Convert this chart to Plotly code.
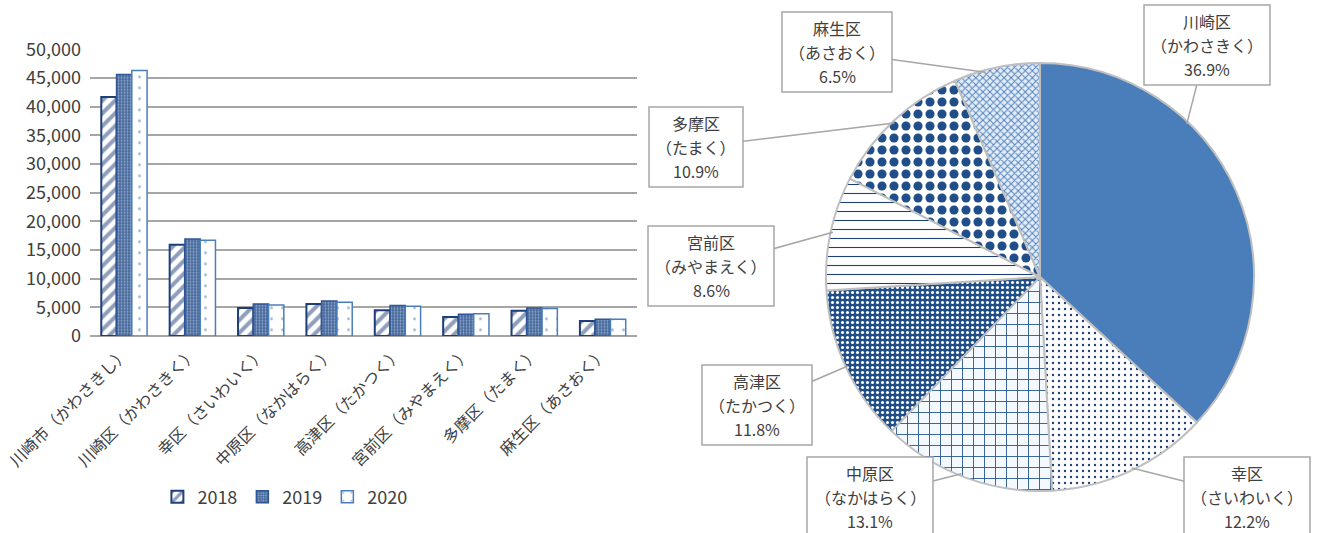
import math
import plotly.graph_objects as go

W, H = 1319, 533
FONT = "Noto Sans CJK JP"

# ---------------- data ----------------
bar_names = ["川崎市", "川崎区", "幸区", "中原区", "高津区", "宮前区", "多摩区", "麻生区"]
bar_readings = ["かわさきし", "かわさきく", "さいわいく", "なかはらく", "たかつく", "みやまえく", "たまく", "あさおく"]
years = ["2018", "2019", "2020"]
v2018 = [41700, 15900, 4900, 5600, 4500, 3300, 4400, 2600]
v2019 = [45600, 16900, 5600, 6100, 5300, 3800, 4900, 2900]
v2020 = [46300, 16700, 5400, 5900, 5200, 3900, 4800, 2900]

pie_names = ["川崎区", "幸区", "中原区", "高津区", "宮前区", "多摩区", "麻生区"]
pie_readings = ["かわさきく", "さいわいく", "なかはらく", "たかつく", "みやまえく", "たまく", "あさおく"]
pie_pct = [36.9, 12.2, 13.1, 11.8, 8.6, 10.9, 6.5]

y_ticks = list(range(0, 50001, 5000))

categories = [f"{n}（{r}）" for n, r in zip(bar_names, bar_readings)]

# ---------------- styles ----------------
NAVY = "#1f3f78"
BLUE = "#2f5597"
STEEL = "#4a7ebb"
GREY = "#a6a6a6"
TXT = "#404040"

bar_styles = [
    dict(color="white", line=dict(color=NAVY, width=2),
         pattern=dict(shape="/", fgcolor=NAVY, bgcolor="white", size=9, solidity=0.45)),
    dict(color=BLUE, line=dict(color=BLUE, width=1.5),
         pattern=dict(shape=".", fgcolor="#e6eef8", bgcolor="#46699c", size=3, solidity=0.3)),
    dict(color="white", line=dict(color=STEEL, width=1.5),
         pattern=dict(shape=".", fgcolor=STEEL, bgcolor="white", size=11, solidity=0.06)),
]

pie_colors = [STEEL, "white", "white", "#1f4e89", "white", "white", "#dbe6f3"]
pie_shapes = ["", ".", "+", ".", "-", ".", "x"]
pie_fg = [STEEL, "#1f3f78", "#1f4e89", "white", "#1f3f78", "#1f4e89", "#4f81bd"]
pie_bg = [STEEL, "white", "#f4f9ff", "#1f4e89", "white", "white", "#e3ecf7"]
pie_size = [8, 6, 11, 5, 9, 12, 5]
pie_sol = [0.3, 0.12, 0.15, 0.3, 0.12, 0.45, 0.35]

fig = go.Figure()

for yr, vals, st in zip(years, [v2018, v2019, v2020], bar_styles):
    fig.add_trace(go.Bar(
        x=categories, y=vals, name=yr,
        marker=dict(color=st["color"], line=st["line"], pattern=st["pattern"]),
        xaxis="x", yaxis="y",
    ))

# pie geometry (layout)
pie_cx, pie_cy, pie_r = 1040, 277, 214
pdx = [(pie_cx - pie_r) / W, (pie_cx + pie_r) / W]
pdy = [1 - (pie_cy + pie_r) / H, 1 - (pie_cy - pie_r) / H]

fig.add_trace(go.Pie(
    labels=pie_names, values=pie_pct, sort=False, direction="clockwise", rotation=0,
    textinfo="none", showlegend=False, hoverinfo="label+percent", automargin=False,
    domain=dict(x=pdx, y=pdy),
    marker=dict(colors=pie_colors, line=dict(color="#bfbfbf", width=2),
                pattern=dict(shape=pie_shapes, fgcolor=pie_fg, bgcolor=pie_bg,
                             size=pie_size, solidity=pie_sol)),
))

# callout boxes (layout positions, pixels) and where along each slice the leader lands
box_centers = [(1207, 45), (1247, 497), (870, 497), (757, 405), (711, 266), (696, 147), (837, 52)]
leader_frac = [0.33, 0.49, 0.53, 0.5, 0.51, 0.49, 0.36]
BOX_FS = 16
LINE_GAP = 24
BOX_H = 80

def px(x):
    return x / W

def py(y):
    return 1 - y / H

shapes = []
annotations = []
total = sum(pie_pct)
cum = 0.0
for name, rd, pct, (bx, by), f in zip(pie_names, pie_readings, pie_pct, box_centers, leader_frac):
    theta = 2 * math.pi * (cum + f * pct) / total
    cum += pct
    tx = pie_cx + pie_r * 0.99 * math.sin(theta)
    ty = pie_cy - pie_r * 0.99 * math.cos(theta)
    lines = [name, f"（{rd}）", f"{pct:.1f}%"]
    bw = max(len(lines[0]), len(lines[1])) * BOX_FS + 14
    # leader line (drawn first, then box on top of it)
    shapes.append(dict(type="line", xref="paper", yref="paper",
                       x0=px(tx), y0=py(ty), x1=px(bx), y1=py(by),
                       line=dict(color=GREY, width=1.5), layer="above"))
    shapes.append(dict(type="rect", xref="paper", yref="paper",
                       x0=px(bx - bw / 2), x1=px(bx + bw / 2),
                       y0=py(by + BOX_H / 2), y1=py(by - BOX_H / 2),
                       line=dict(color=GREY, width=1.5), fillcolor="white", layer="above"))
    for i, t in enumerate(lines):
        annotations.append(dict(
            x=px(bx), y=py(by + (i - 1) * LINE_GAP), xref="paper", yref="paper",
            xanchor="center", yanchor="middle", showarrow=False, text=t,
            font=dict(family=FONT, size=BOX_FS, color=TXT),
        ))

fig.update_layout(
    width=W, height=H,
    margin=dict(l=0, r=0, t=0, b=0, autoexpand=False),
    paper_bgcolor="white", plot_bgcolor="white",
    font=dict(family=FONT, color=TXT),
    barmode="group", bargap=0.33, bargroupgap=0.0,
    xaxis=dict(domain=[90 / W, 637 / W], tickangle=-45, showgrid=False, automargin=False,
               showline=False, ticks="", tickfont=dict(size=16, color=TXT),
               ticklabelstandoff=4, anchor="y"),
    yaxis=dict(domain=[1 - 336 / H, 1 - 49.3 / H], range=[0, 50000], automargin=False,
               tickvals=y_ticks, tickformat=",", showgrid=True, gridcolor=GREY,
               gridwidth=1.5, zeroline=True, zerolinecolor=GREY, zerolinewidth=1.5,
               showline=False, ticks="", ticklabelstandoff=8,
               tickfont=dict(size=18, color=TXT), anchor="x"),
    legend=dict(orientation="h", x=0.216, y=1 - 497 / H, xanchor="center", yanchor="middle",
                font=dict(size=18, color=TXT), itemwidth=30,
                traceorder="normal"),
    shapes=shapes,
    annotations=annotations,
    showlegend=True,
)

fig.write_html("out.html")
